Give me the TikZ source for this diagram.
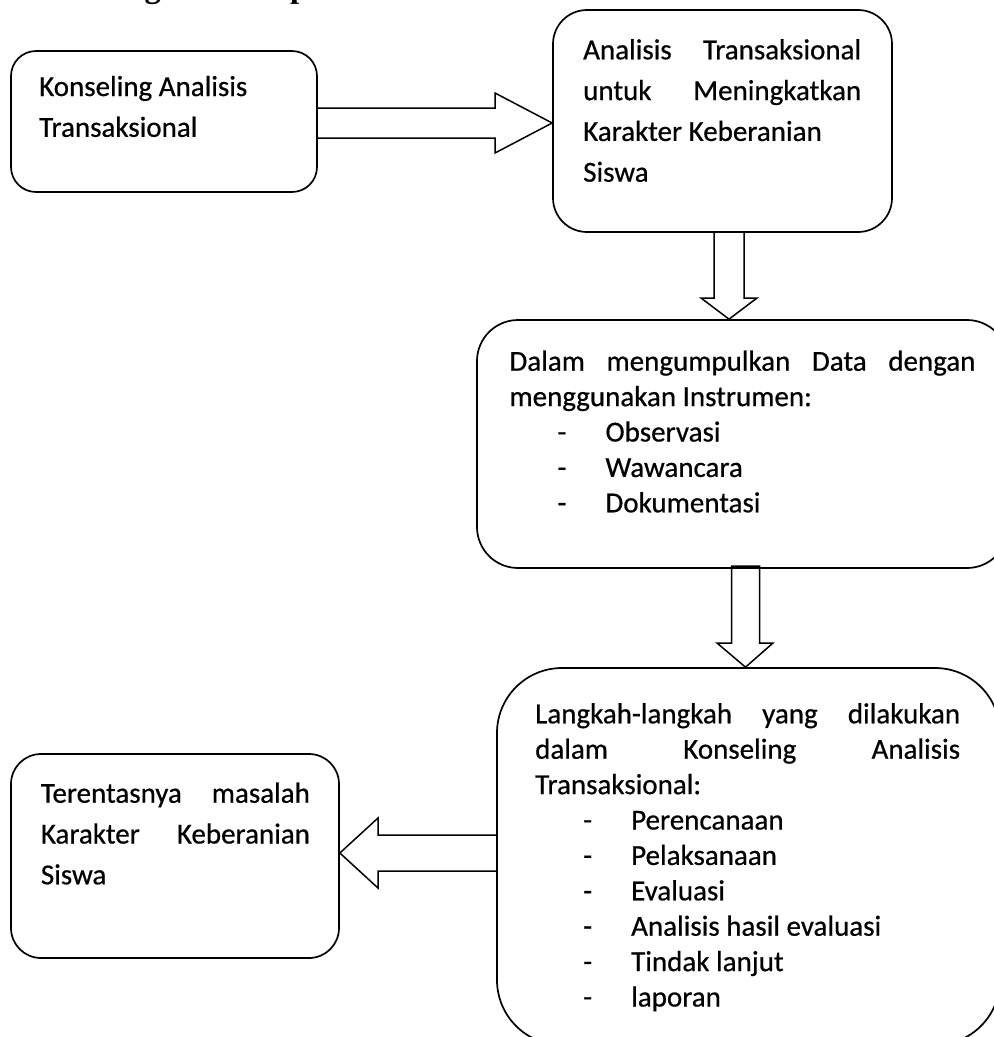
\documentclass[tikz,border=0pt]{standalone}
\usepackage{fontspec}
\setmainfont{Carlito}[FakeBold=0.6]
\newfontfamily\ttlfont{Liberation Serif}
\newcommand{\jline}[1]{\makebox[\linewidth][s]{#1}}
\newcommand{\itm}[1]{\makebox[48pt][l]{}\makebox[48pt][l]{-}#1}
\begin{document}
\begin{tikzpicture}[x=1pt,y=-1pt,
  box/.style={draw,line width=1.7pt,rounded corners=#1,inner sep=0pt},
  txt/.style={anchor=base west,inner sep=0pt,font=\fontsize{29}{40.8}\selectfont},
  txtb/.style={anchor=base west,inner sep=0pt,font=\fontsize{29}{35.4}\selectfont},
  barrow/.style={draw,line width=1.5pt,line join=miter}]
\useasboundingbox (0,0) rectangle (994,1037);
\begin{scope}
\clip (0,0) rectangle (994,1037);
% title (cut off at the top edge)
\node[anchor=base west,inner sep=0pt,font=\ttlfont\bfseries\fontsize{32.5}{39}\selectfont] (title) at (56,-3) {Kerangka Konseptual};
% boxes
\node[box=25pt,minimum width=306pt,minimum height=141pt] (b1) at (164,121.5) {};
\node[box=34pt,minimum width=339pt,minimum height=222pt] (b2) at (722.5,121) {};
\node[box=41pt,minimum width=531pt,minimum height=248pt] (b3) at (742.5,444) {};
\node[box=65pt,minimum width=503pt,minimum height=377pt] (b4) at (748.5,856.5) {};
\node[box=30pt,minimum width=328pt,minimum height=204pt] (b5) at (175,856) {};
% texts
\node[txt] (t1) at (39,96) {\parbox[t]{270pt}{Konseling Analisis\\Transaksional}};
\node[txt] (t2) at (583,59.3) {\parbox[t]{278pt}{\jline{Analisis Transaksional}\\\jline{untuk Meningkatkan}\\Karakter Keberanian\\Siswa}};
\node[txtb] (t3) at (509.3,370.7) {\parbox[t]{466pt}{\jline{Dalam mengumpulkan Data dengan}\\menggunakan Instrumen:\\\itm{Observasi}\\\itm{Wawancara}\\\itm{Dokumentasi}}};
\node[txtb] (t4) at (535,723.3) {\parbox[t]{425pt}{\jline{Langkah-langkah yang dilakukan}\\\jline{dalam Konseling Analisis}\\Transaksional:\\\itm{Perencanaan}\\\itm{Pelaksanaan}\\\itm{Evaluasi}\\\itm{Analisis hasil evaluasi}\\\itm{Tindak lanjut}\\\itm{laporan}}};
\node[txt] (t5) at (40.7,802.7) {\parbox[t]{269pt}{\jline{Terentasnya masalah}\\\jline{Karakter Keberanian}\\Siswa}};
% block arrows
\draw[barrow] (b1.east |- 0,108) -- (495,108) -- (495,93) -- (b2.west |- 0,123)
  -- (495,153) -- (495,138) -- (b1.east |- 0,138);
\draw[barrow] (714,0 |- b2.south) -- (714,298) -- (701,298) -- (729,0 |- b3.north)
  -- (757,298) -- (744,298) -- (744,0 |- b2.south);
\draw[barrow] (731.5,566) -- (731.5,643) -- (717,643) -- (745.5,0 |- b4.north)
  -- (773,643) -- (759.7,643) -- (759.7,566) -- cycle;
\draw[barrow] (b4.west |- 0,835) -- (378,835) -- (378,818) -- (b5.east |- 0,853)
  -- (378,888) -- (378,871) -- (b4.west |- 0,871);
\end{scope}
\end{tikzpicture}
\end{document}
